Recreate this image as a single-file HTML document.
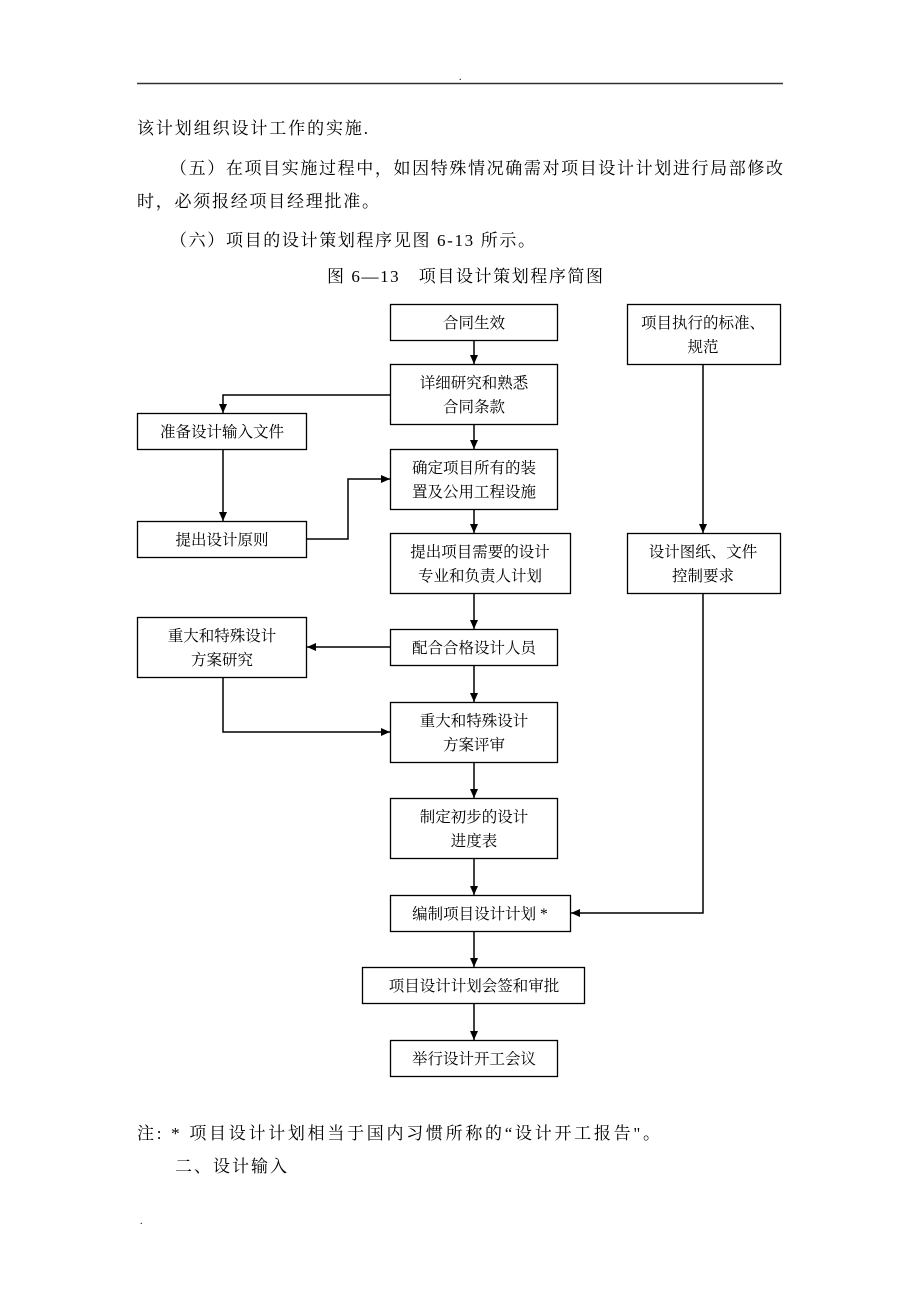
<!DOCTYPE html>
<html><head><meta charset="utf-8"><style>
html,body{margin:0;padding:0;background:#fff;}
svg text{font-family:"Liberation Serif","Noto Serif CJK SC","Noto Sans CJK SC",serif;fill:#000;}
</style></head><body>
<svg width="920" height="1302" viewBox="0 0 920 1302" xmlns="http://www.w3.org/2000/svg">
<defs><marker id="a" markerWidth="10" markerHeight="10" refX="9" refY="5" orient="auto" markerUnits="userSpaceOnUse"><path d="M0,1 L9,5 L0,9 z" fill="#000"/></marker></defs>
<text x="459" y="80" font-size="10">.</text>
<line x1="137" y1="83.5" x2="783" y2="83.5" stroke="#333" stroke-width="1.5"/>
<g font-size="17">
<text x="137" y="134" textLength="231" lengthAdjust="spacing">该计划组织设计工作的实施.</text>
<text x="170" y="174" textLength="613" lengthAdjust="spacing">（五）在项目实施过程中，如因特殊情况确需对项目设计计划进行局部修改</text>
<text x="137" y="207" textLength="242" lengthAdjust="spacing">时，必须报经项目经理批准。</text>
<text x="170" y="246" textLength="365" lengthAdjust="spacing">（六）项目的设计策划程序见图 6-13 所示。</text>
<text x="327" y="282" textLength="276" lengthAdjust="spacing" font-family="Liberation Sans,Noto Sans CJK SC,sans-serif">图 6—13　项目设计策划程序简图</text>
<text x="137" y="1139" textLength="523" lengthAdjust="spacing">注: * 项目设计计划相当于国内习惯所称的“设计开工报告"。</text>
<text x="175" y="1172" textLength="112" lengthAdjust="spacing">二、设计输入</text>
</g>
<text x="140" y="1224" font-size="10">.</text>
<g fill="#fff" stroke="#000" stroke-width="1.3">
<rect x="390.5" y="304.5" width="167" height="36"/>
<rect x="627.5" y="304.5" width="153" height="60"/>
<rect x="390.5" y="364.5" width="167" height="60"/>
<rect x="137.5" y="413.5" width="169" height="36"/>
<rect x="390.5" y="449.5" width="167" height="60"/>
<rect x="137.5" y="521.5" width="169" height="36"/>
<rect x="390.5" y="533.5" width="180" height="60"/>
<rect x="627.5" y="533.5" width="153" height="60"/>
<rect x="137.5" y="617.5" width="169" height="60"/>
<rect x="390.5" y="629.5" width="167" height="36"/>
<rect x="390.5" y="702.5" width="167" height="60"/>
<rect x="390.5" y="798.5" width="167" height="60"/>
<rect x="390.5" y="895.5" width="180" height="36"/>
<rect x="362.5" y="967.5" width="222" height="36"/>
<rect x="390.5" y="1040.5" width="167" height="36"/>
</g>
<g stroke="#000" stroke-width="1.5" fill="none" marker-end="url(#a)">
<line x1="474" y1="341" x2="474" y2="364"/>
<line x1="474" y1="425" x2="474" y2="449"/>
<line x1="474" y1="510" x2="474" y2="533"/>
<line x1="474" y1="594" x2="474" y2="629"/>
<line x1="474" y1="666" x2="474" y2="702"/>
<line x1="474" y1="763" x2="474" y2="798"/>
<line x1="474" y1="859" x2="474" y2="895"/>
<line x1="474" y1="932" x2="474" y2="967"/>
<line x1="474" y1="1004" x2="474" y2="1040"/>
<polyline points="390,395 223,395 223,413"/>
<line x1="223" y1="450" x2="223" y2="521"/>
<polyline points="307,539 348,539 348,479 390,479"/>
<line x1="390" y1="647" x2="307" y2="647"/>
<polyline points="223,678 223,732 390,732"/>
<line x1="703" y1="365" x2="703" y2="533"/>
<polyline points="703,594 703,913 571,913"/>
</g>
<g font-size="15.5" text-anchor="middle">
<text x="474" y="328">合同生效</text>
<text x="703" y="328">项目执行的标准、</text><text x="703" y="352">规范</text>
<text x="474" y="388">详细研究和熟悉</text><text x="474" y="412">合同条款</text>
<text x="222" y="437">准备设计输入文件</text>
<text x="474" y="473">确定项目所有的装</text><text x="474" y="497">置及公用工程设施</text>
<text x="222" y="545">提出设计原则</text>
<text x="480" y="557">提出项目需要的设计</text><text x="480" y="581">专业和负责人计划</text>
<text x="703" y="557">设计图纸、文件</text><text x="703" y="581">控制要求</text>
<text x="222" y="641">重大和特殊设计</text><text x="222" y="665">方案研究</text>
<text x="474" y="653">配合合格设计人员</text>
<text x="474" y="726">重大和特殊设计</text><text x="474" y="750">方案评审</text>
<text x="474" y="822">制定初步的设计</text><text x="474" y="846">进度表</text>
<text x="480" y="919">编制项目设计计划 *</text>
<text x="474" y="991">项目设计计划会签和审批</text>
<text x="474" y="1064">举行设计开工会议</text>
</g>
</svg>
</body></html>
